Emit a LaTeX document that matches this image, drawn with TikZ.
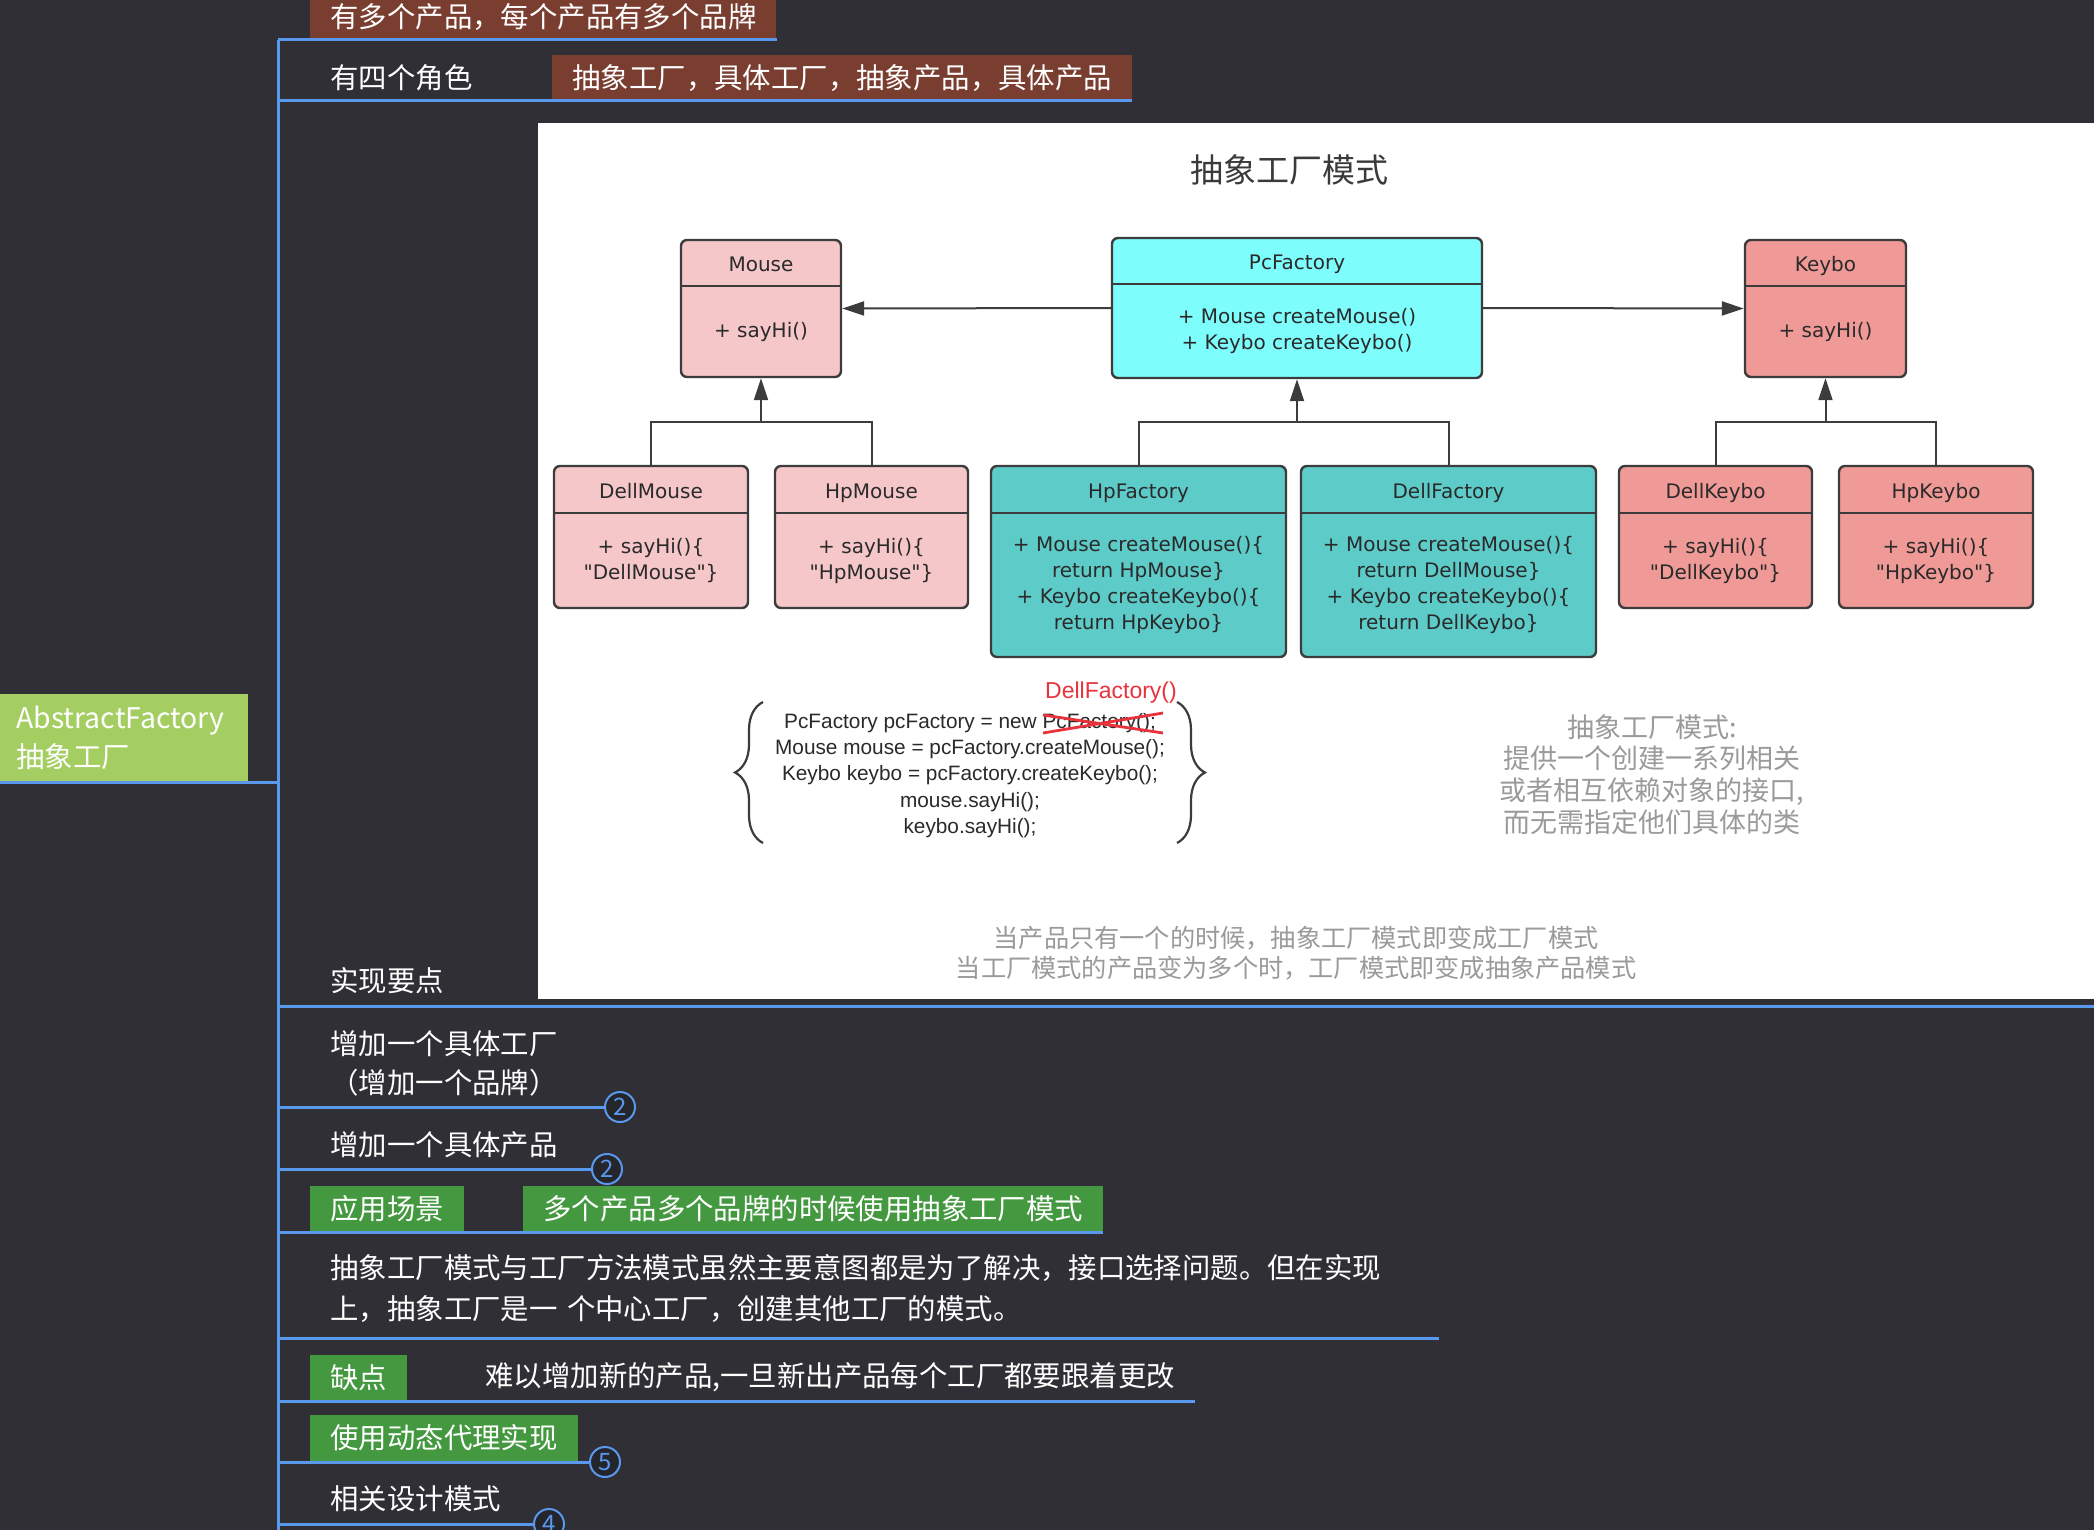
\documentclass[tikz,border=0pt]{standalone}
\usepackage{fontspec}
\setmainfont{Noto Sans CJK SC}
\newfontfamily\umlfont{DejaVu Sans}
\newfontfamily\codefont{Liberation Sans}
\usetikzlibrary{arrows.meta,decorations.pathreplacing}
\definecolor{bgdark}{HTML}{2F2F35}
\definecolor{mapblue}{HTML}{5A98EE}
\definecolor{tagbrown}{HTML}{7A3E31}
\definecolor{rootgreen}{HTML}{A4CE62}
\definecolor{taggreen}{HTML}{44983F}
\definecolor{badgefill}{HTML}{25262B}
\definecolor{mousepink}{HTML}{F5C7C9}
\definecolor{factcyan}{HTML}{7EFDFD}
\definecolor{factteal}{HTML}{5DCBC8}
\definecolor{keysalmon}{HTML}{F09A97}
\definecolor{umlgray}{HTML}{3C3C3C}
\definecolor{umltext}{HTML}{2A2A2A}
\definecolor{crossred}{HTML}{E8323C}
\definecolor{notegray}{HTML}{9A9A9A}
\definecolor{titlegray}{HTML}{3A3A3A}
\newcommand{\mapfont}{\fontsize{14.2pt}{19.5pt}\selectfont}
\begin{document}
\begin{tikzpicture}[x=0.5pt,y=-0.5pt,
  mapline/.style={draw=mapblue,line width=1.5pt},
  maptext/.style={text=white,font=\mapfont,anchor=south west,inner xsep=10pt,inner ysep=0pt,minimum height=23pt},
  browntag/.style={maptext,fill=tagbrown},
  greentag/.style={maptext,fill=taggreen},
  roottag/.style={fill=rootgreen,text=white,font=\mapfont,anchor=south west,align=left,text width=108pt,inner xsep=8pt,inner ysep=0pt,minimum height=44pt},
  badge/.style={circle,draw=mapblue,fill=badgefill,line width=1pt,text=mapblue,font=\fontsize{12pt}{12pt}\selectfont,minimum size=15pt,inner sep=0pt},
  cls/.style={draw=umlgray,line width=1.2pt,rounded corners=3pt,inner sep=0pt},
  clsline/.style={draw=umlgray,line width=1.2pt},
  clsname/.style={font=\umlfont\fontsize{10pt}{12pt}\selectfont,text=umltext,inner sep=0pt,text height=7.3pt,text depth=0pt},
  clsbody/.style={font=\umlfont\fontsize{10pt}{13pt}\selectfont,text=umltext,inner sep=0pt,align=center},
  inherit/.style={draw=umlgray,line width=1pt},
  tip/.style={-{Triangle[length=11pt,width=7pt]}},
  codebrace/.style={draw=umlgray,line width=1.1pt,decorate,decoration={brace,amplitude=14pt}},
  notetext/.style={text=notegray,inner sep=0pt,align=center}]
\path[use as bounding box,fill=bgdark] (0,0) rectangle (2094,1530);
\clip (0,0) rectangle (2094,1530);

% mind map
\coordinate (spinetop) at (278,40);
\coordinate (spinebot) at (278,1530);
\draw[mapline] (spinetop) -- (spinebot);
\node[roottag] (root) at (0,782) {AbstractFactory\\抽象工厂};
\draw[mapline] (root.south west) -- (spinetop |- root.south);

\node[browntag] (multi) at (310,40) {有多个产品，每个产品有多个品牌};
\draw[mapline] (spinetop |- multi.south) -- (multi.south east);

\node[maptext] (roles) at (310,101) {有四个角色};
\node[browntag] (rolesval) at (552,101) {抽象工厂，具体工厂，抽象产品，具体产品};
\draw[mapline] (spinetop |- rolesval.south) -- (rolesval.south east);

\node[maptext] (impl) at (310,1004) {实现要点};
\coordinate (implend) at (2094,1006);
\draw[mapline] (spinetop |- implend) -- (implend);

\node[maptext,align=left,anchor=west] (addfac) at (310,1063.5) {增加一个具体工厂\\（增加一个品牌）};
\node[badge] (addfacn) at (620,1107) {2};
\draw[mapline] (spinetop |- addfacn) -- (addfacn.west);

\node[maptext] (addprod) at (310,1168) {增加一个具体产品};
\node[badge] (addprodn) at (607,1169) {2};
\draw[mapline] (spinetop |- addprodn) -- (addprodn.west);

\node[greentag] (scene) at (310,1232) {应用场景};
\node[greentag] (sceneval) at (523,1232) {多个产品多个品牌的时候使用抽象工厂模式};
\draw[mapline] (spinetop |- sceneval.south) -- (sceneval.south east);

\node[maptext,font=\fontsize{14.2pt}{20.5pt}\selectfont,text width=544pt,align=left,minimum height=49pt] (compare) at (310,1338) {抽象工厂模式与工厂方法模式虽然主要意图都是为了解决，接口选择问题。但在实现\\上，抽象工厂是一 个中心工厂，创建其他工厂的模式。};
\draw[mapline] (spinetop |- compare.south) -- (compare.south east);

\node[greentag] (cons) at (310,1401) {缺点};
\node[maptext] (consval) at (465,1401) {难以增加新的产品,一旦新出产品每个工厂都要跟着更改};
\draw[mapline] (spinetop |- consval.south) -- (consval.south east);

\node[greentag] (proxy) at (310,1461) {使用动态代理实现};
\node[badge] (proxyn) at (605,1462) {5};
\draw[mapline] (spinetop |- proxyn) -- (proxyn.west);

\node[maptext] (related) at (310,1522) {相关设计模式};
\node[badge] (relatedn) at (549,1524) {4};
\draw[mapline] (spinetop |- relatedn) -- (relatedn.west);

% screenshot of the class diagram
\node[fill=white,inner sep=0pt,minimum width=778pt,minimum height=438pt,anchor=north west] (shot) at (538,123) {};
\node[text=titlegray,font=\fontsize{16.5pt}{18pt}\selectfont,inner sep=0pt] (title) at (1289,170) {抽象工厂模式};

\node[cls,fill=mousepink,minimum width=80pt,minimum height=68.5pt] (mouse) at (761,308.5) {};
\draw[clsline] (mouse.west |- 0,286) -- (mouse.east |- 0,286);
\node[clsname] (mousename) at (761,264) {Mouse};
\node[clsbody] (mousebody) at (761,331.5) {+ sayHi()};

\node[cls,fill=factcyan,minimum width=185pt,minimum height=70pt] (pcfactory) at (1297,308) {};
\draw[clsline] (pcfactory.west |- 0,284) -- (pcfactory.east |- 0,284);
\node[clsname] (pcfactoryname) at (1297,262) {PcFactory};
\node[clsbody] (pcfactorybody) at (1297,331) {+ Mouse createMouse()\\+ Keybo createKeybo()};

\node[cls,fill=keysalmon,minimum width=80.5pt,minimum height=68.5pt] (keybo) at (1825.5,308.5) {};
\draw[clsline] (keybo.west |- 0,286) -- (keybo.east |- 0,286);
\node[clsname] (keyboname) at (1825.5,264) {Keybo};
\node[clsbody] (keybobody) at (1825.5,331.5) {+ sayHi()};

\node[cls,fill=mousepink,minimum width=97pt,minimum height=71pt] (dellmouse) at (651,537) {};
\draw[clsline] (dellmouse.west |- 0,513) -- (dellmouse.east |- 0,513);
\node[clsname] (dellmousename) at (651,491) {DellMouse};
\node[clsbody] (dellmousebody) at (651,560.5) {+ sayHi()\{\\"DellMouse"\}};

\node[cls,fill=mousepink,minimum width=96.5pt,minimum height=71pt] (hpmouse) at (871.5,537) {};
\draw[clsline] (hpmouse.west |- 0,513) -- (hpmouse.east |- 0,513);
\node[clsname] (hpmousename) at (871.5,491) {HpMouse};
\node[clsbody] (hpmousebody) at (871.5,560.5) {+ sayHi()\{\\"HpMouse"\}};

\node[cls,fill=factteal,minimum width=147.5pt,minimum height=95.5pt] (hpfactory) at (1138.5,561.5) {};
\draw[clsline] (hpfactory.west |- 0,513) -- (hpfactory.east |- 0,513);
\node[clsname] (hpfactoryname) at (1138.5,491) {HpFactory};
\node[clsbody] (hpfactorybody) at (1138.5,585) {+ Mouse createMouse()\{\\return HpMouse\}\\+ Keybo createKeybo()\{\\return HpKeybo\}};

\node[cls,fill=factteal,minimum width=147.5pt,minimum height=95.5pt] (dellfactory) at (1448.5,561.5) {};
\draw[clsline] (dellfactory.west |- 0,513) -- (dellfactory.east |- 0,513);
\node[clsname] (dellfactoryname) at (1448.5,491) {DellFactory};
\node[clsbody] (dellfactorybody) at (1448.5,585) {+ Mouse createMouse()\{\\return DellMouse\}\\+ Keybo createKeybo()\{\\return DellKeybo\}};

\node[cls,fill=keysalmon,minimum width=96.5pt,minimum height=71pt] (dellkeybo) at (1715.5,537) {};
\draw[clsline] (dellkeybo.west |- 0,513) -- (dellkeybo.east |- 0,513);
\node[clsname] (dellkeyboname) at (1715.5,491) {DellKeybo};
\node[clsbody] (dellkeybobody) at (1715.5,560.5) {+ sayHi()\{\\"DellKeybo"\}};

\node[cls,fill=keysalmon,minimum width=97pt,minimum height=71pt] (hpkeybo) at (1936,537) {};
\draw[clsline] (hpkeybo.west |- 0,513) -- (hpkeybo.east |- 0,513);
\node[clsname] (hpkeyboname) at (1936,491) {HpKeybo};
\node[clsbody] (hpkeybobody) at (1936,560.5) {+ sayHi()\{\\"HpKeybo"\}};

\draw[inherit,tip] (pcfactory.west) -- (mouse.east);
\draw[inherit,tip] (pcfactory.east) -- (keybo.west);
\coordinate (mousebar) at (761,422);
\coordinate (factorybar) at (1297,422);
\coordinate (keybobar) at (1825.5,422);
\draw[inherit] (dellmouse.north) |- (mousebar) -| (hpmouse.north);
\draw[inherit,tip] (mousebar) -- (mouse.south);
\draw[inherit] (hpfactory.north) |- (factorybar) -| (dellfactory.north);
\draw[inherit,tip] (factorybar) -- (pcfactory.south);
\draw[inherit] (dellkeybo.north) |- (keybobar) -| (hpkeybo.north);
\draw[inherit,tip] (keybobar) -- (keybo.south);

% client code
\node[text=umltext,font=\codefont\fontsize{10.4pt}{13.1pt}\selectfont,inner sep=0pt,align=center] (code) at (970,775.5) {PcFactory pcFactory = new PcFactory();\\Mouse mouse = pcFactory.createMouse();\\Keybo keybo = pcFactory.createKeybo();\\mouse.sayHi();\\keybo.sayHi();};
\draw[codebrace] (763,843) -- (763,702);
\draw[codebrace] (1177,702) -- (1177,843);
\node[text=crossred,font=\codefont\fontsize{11.5pt}{12pt}\selectfont,inner sep=0pt] (dellnew) at (1111,693) {DellFactory()};
\draw[crossred,line width=1.4pt] (1043,715) -- (1163,733) (1043,733) -- (1163,713);

\node[notetext,font=\fontsize{13.5pt}{15.85pt}\selectfont] (note) at (1652,774.5) {抽象工厂模式:\\提供一个创建一系列相关\\或者相互依赖对象的接口,\\而无需指定他们具体的类};
\node[notetext,font=\fontsize{12.6pt}{15pt}\selectfont] (summary) at (1296,953) {当产品只有一个的时候，抽象工厂模式即变成工厂模式\\当工厂模式的产品变为多个时，工厂模式即变成抽象产品模式};
\end{tikzpicture}
\end{document}
